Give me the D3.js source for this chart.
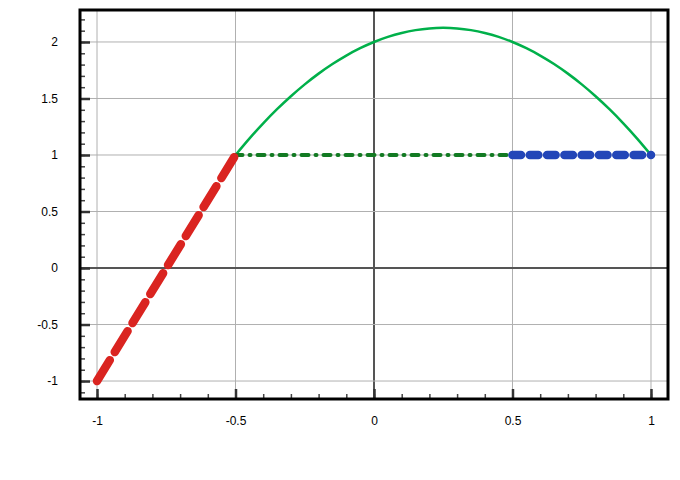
<!DOCTYPE html>
<html>
<head>
<meta charset="utf-8">
<script src="https://cdn.jsdelivr.net/npm/d3@7"></script>
<style>
  body { margin: 0; background: #fff; }
  text { font-family: "Liberation Sans", Arial, sans-serif; font-size: 12px; fill: #000; }
</style>
</head>
<body>
<script>
// piecewise pieces
const redX = [-1, -0.5]
const redY = [-1, 1]

const curveX = [-0.5, -0.45, -0.4, -0.35, -0.3, -0.25, -0.2, -0.15, -0.1, -0.05, 0,
  0.05, 0.1, 0.15, 0.2, 0.25, 0.3, 0.35, 0.4, 0.45, 0.5,
  0.55, 0.6, 0.65, 0.7, 0.75, 0.8, 0.85, 0.9, 0.95, 1]
const curveY = [1, 1.145, 1.28, 1.405, 1.52, 1.625, 1.72, 1.805, 1.88, 1.945, 2,
  2.045, 2.08, 2.105, 2.12, 2.125, 2.12, 2.105, 2.08, 2.045, 2,
  1.945, 1.88, 1.805, 1.72, 1.625, 1.52, 1.405, 1.28, 1.145, 1]

const flatX = [-0.5, 0.5]
const flatY = [1, 1]

const blueX = [0.5, 1]
const blueY = [1, 1]

const xTicks = [-1, -0.5, 0, 0.5, 1]
const yTicks = [-1, -0.5, 0, 0.5, 1, 1.5, 2]

const W = 680, H = 480
const pLeft = 80, pRight = 668, pTop = 10, pBottom = 399

const x = d3.scaleLinear().domain([-1.0614, 1.0614]).range([pLeft, pRight])
const y = d3.scaleLinear().domain([-1.159, 2.283]).range([pBottom, pTop])

// plain hyphen for negatives, like the original
const fmt = d => String(d)

const svg = d3.select('body').append('svg')
  .attr('width', W)
  .attr('height', H)

// grid
svg.append('g')
  .selectAll('line')
  .data(xTicks)
  .join('line')
  .attr('x1', d => x(d)).attr('x2', d => x(d))
  .attr('y1', pTop).attr('y2', pBottom)
  .attr('stroke', d => d === 0 ? '#555' : '#b0b0b0')
  .attr('stroke-width', d => d === 0 ? 2 : 1)

svg.append('g')
  .selectAll('line')
  .data(yTicks)
  .join('line')
  .attr('y1', d => y(d)).attr('y2', d => y(d))
  .attr('x1', pLeft).attr('x2', pRight)
  .attr('stroke', d => d === 0 ? '#555' : '#b0b0b0')
  .attr('stroke-width', d => d === 0 ? 2 : 1)

// minor + major ticks, pointing inward
const xAxisMinor = d3.axisBottom(x).tickValues(d3.range(-10, 11).map(d => d / 10)).tickSize(-5).tickFormat('')
const yAxisMinor = d3.axisLeft(y).tickValues(d3.range(-11, 23).map(d => d / 10)).tickSize(-5).tickFormat('')

const gxm = svg.append('g').attr('transform', `translate(0,${pBottom})`).call(xAxisMinor)
const gym = svg.append('g').attr('transform', `translate(${pLeft},0)`).call(yAxisMinor)

const xAxis = d3.axisBottom(x).tickValues(xTicks).tickSize(-10).tickPadding(17).tickFormat(fmt)
const yAxis = d3.axisLeft(y).tickValues(yTicks).tickSize(-10).tickPadding(22).tickFormat(fmt)

const gx = svg.append('g').attr('transform', `translate(0,${pBottom})`).call(xAxis)
const gy = svg.append('g').attr('transform', `translate(${pLeft},0)`).call(yAxis)

for (const g of [gxm, gym, gx, gy]) {
  g.select('.domain').remove()
  g.selectAll('text').attr('font-size', 12.5).attr('font-family', '"Liberation Sans", Arial, sans-serif').attr('fill', '#000')
}
gxm.selectAll('line').attr('stroke', '#444').attr('stroke-width', 1.5)
gym.selectAll('line').attr('stroke', '#444').attr('stroke-width', 1.5)
gx.selectAll('line').attr('stroke', '#333').attr('stroke-width', 2.5)
gy.selectAll('line').attr('stroke', '#333').attr('stroke-width', 2.5)

const line = d3.line().x(d => x(d[0])).y(d => y(d[1]))

// parabola
svg.append('path')
  .datum(d3.zip(curveX, curveY))
  .attr('d', line.curve(d3.curveNatural))
  .attr('fill', 'none')
  .attr('stroke', '#00b04a')
  .attr('stroke-width', 2.5)

line.curve(d3.curveLinear)

// flat dash-dot
svg.append('path')
  .datum(d3.zip(flatX, flatY))
  .attr('d', line)
  .attr('fill', 'none')
  .attr('stroke', '#127a22')
  .attr('stroke-width', 4)
  .attr('stroke-linecap', 'round')
  .attr('stroke-dasharray', '7,7,1,7')

// red dashes
svg.append('path')
  .datum(d3.zip(redX, redY))
  .attr('d', line)
  .attr('fill', 'none')
  .attr('stroke', '#da2420')
  .attr('stroke-width', 8.5)
  .attr('stroke-linecap', 'round')
  .attr('stroke-dasharray', '24.5,9.5')

// blue dashes
svg.append('path')
  .datum(d3.zip(blueX, blueY))
  .attr('d', line)
  .attr('fill', 'none')
  .attr('stroke', '#2346b8')
  .attr('stroke-width', 8.5)
  .attr('stroke-linecap', 'round')
  .attr('stroke-dasharray', '8.5,8.8')

// frame
svg.append('rect')
  .attr('x', pLeft).attr('y', pTop)
  .attr('width', pRight - pLeft).attr('height', pBottom - pTop)
  .attr('fill', 'none')
  .attr('stroke', '#000')
  .attr('stroke-width', 3)
</script>
</body>
</html>
